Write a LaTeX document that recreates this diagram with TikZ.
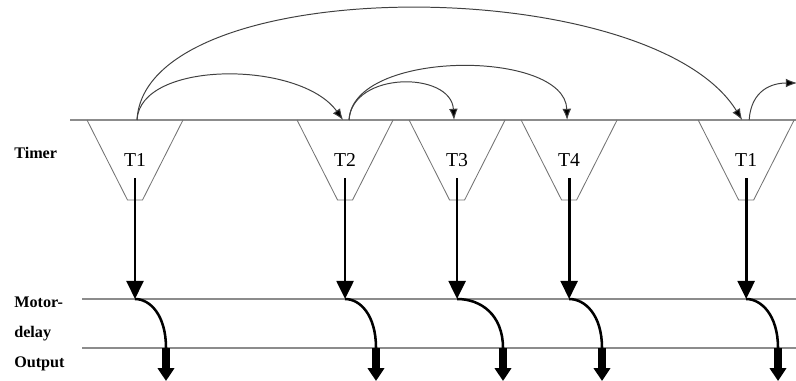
\documentclass[tikz,border=0pt]{standalone}
\usepackage{fontspec}
\setmainfont{Liberation Serif}
\usetikzlibrary{arrows.meta, calc}
\tikzstyle{timer} = [inner sep=0pt, font=\fontsize{14}{16}\selectfont]
\tikzstyle{cup} = [draw=black!55, line width=0.6pt]
\tikzstyle{rail} = [draw=black!45, line width=1pt]
\tikzstyle{lbl} = [font=\fontsize{11.5}{21}\selectfont\bfseries, align=left, anchor=west, inner sep=0pt]
\tikzstyle{hop} = [black!75, line width=0.7pt, -{Latex[length=0.28cm, width=0.22cm, fill=black]}]
\tikzstyle{trig} = [line width=2pt, -{Triangle[length=0.45cm, width=0.42cm]}]
\tikzstyle{delay} = [line width=1.8pt]
\tikzstyle{fire} = [line width=5.5pt, -{Triangle[length=0.32cm, width=0.4cm]}]

\begin{document}
\begin{tikzpicture}[x=0.025cm, y=-0.025cm, node distance=2.8cm]
\useasboundingbox (0,0) rectangle (796,381);

% rails
\draw[rail] (70,120) -- (796,120);
\draw[rail] (82,299) -- (796,299);
\draw[rail] (82,348) -- (796,348);
\coordinate (mline) at (0,299);
\coordinate (eline) at (0,381);

\node (timerlbl) [lbl] at (14,153) {Timer};
\node (motor) [lbl] at (14,319) {Motor-\\delay};
\node (output) [lbl] at (14,364) {Output};

% timers
\node (t1) [timer] at (135,160) {T1};
\node (t2) [timer, right of=t1, xshift=2.45cm] {T2};
\node (t3) [timer, right of=t2] {T3};
\node (t4) [timer, right of=t3] {T4};
\node (t5) [timer, right of=t4, xshift=1.625cm] {T1};

\draw[cup] ($(t1)+(-48,-40)$) -- ($(t1)+(-7.5,40)$) -- ($(t1)+(7.5,40)$) -- ($(t1)+(48,-40)$);
\draw[cup] ($(t2)+(-48,-40)$) -- ($(t2)+(-7.5,40)$) -- ($(t2)+(7.5,40)$) -- ($(t2)+(48,-40)$);
\draw[cup] ($(t3)+(-48,-40)$) -- ($(t3)+(-7.5,40)$) -- ($(t3)+(7.5,40)$) -- ($(t3)+(48,-40)$);
\draw[cup] ($(t4)+(-48,-40)$) -- ($(t4)+(-7.5,40)$) -- ($(t4)+(7.5,40)$) -- ($(t4)+(48,-40)$);
\draw[cup] ($(t5)+(-48,-40)$) -- ($(t5)+(-7.5,40)$) -- ($(t5)+(7.5,40)$) -- ($(t5)+(48,-40)$);

\coordinate (m1) at (t1 |- mline);
\coordinate (m2) at (t2 |- mline);
\coordinate (m3) at (t3 |- mline);
\coordinate (m4) at (t4 |- mline);
\coordinate (m5) at (t5 |- mline);
\coordinate (o1) at (166,348);
\coordinate (o2) at (376,348);
\coordinate (o3) at (503,348);
\coordinate (o4) at (602,348);
\coordinate (o5) at (778,348);
\coordinate (e1) at (o1 |- eline);
\coordinate (e2) at (o2 |- eline);
\coordinate (e3) at (o3 |- eline);
\coordinate (e4) at (o4 |- eline);
\coordinate (e5) at (o5 |- eline);
\coordinate (exit) at (797,83);

% restarts
\draw[hop] ($(t1)+(2,-40)$) .. controls +(3,-60) and +(-43,-60) .. ($(t2)+(-2,-40)$);
\draw[hop] ($(t1)+(2,-40)$) .. controls +(8,-149) and +(-92,-149) .. ($(t5)+(-4,-40)$);
\draw[hop] ($(t2)+(4,-40)$) .. controls +(3,-49) and +(-3,-49) .. ($(t3)+(-3,-40)$);
\draw[hop] ($(t2)+(4,-40)$) .. controls +(3,-71) and +(-2,-71) .. ($(t4)+(-2,-40)$);
\draw[hop] ($(t5)+(3,-40)$) .. controls +(2,-30) and +(-25,0) .. (exit);

% triggers
\draw[trig] ($(t1)+(0,18)$) -- (m1);
\draw[trig] ($(t2)+(0,18)$) -- (m2);
\draw[trig] ($(t3)+(0,18)$) -- (m3);
\draw[trig] ($(t4)+(0,18)$) -- (m4);
\draw[trig] ($(t5)+(0,18)$) -- (m5);

% delays
\draw[delay] (m1) .. controls +(15,0) and +(0,-33) .. (o1);
\draw[delay] (m2) .. controls +(15,0) and +(0,-33) .. (o2);
\draw[delay] (m3) .. controls +(24,0) and +(0,-33) .. (o3);
\draw[delay] (m4) .. controls +(16,0) and +(0,-33) .. (o4);
\draw[delay] (m5) .. controls +(15,0) and +(0,-33) .. (o5);

\draw[fire] (o1) -- (e1);
\draw[fire] (o2) -- (e2);
\draw[fire] (o3) -- (e3);
\draw[fire] (o4) -- (e4);
\draw[fire] (o5) -- (e5);

\end{tikzpicture}
\end{document}
